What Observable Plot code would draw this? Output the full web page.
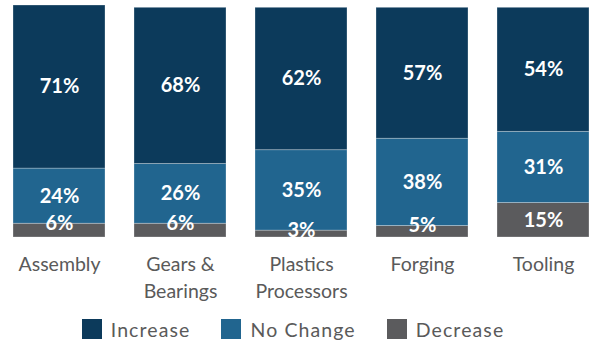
<!DOCTYPE html>
<html>
<head>
<meta charset="utf-8">
<script src="https://cdn.jsdelivr.net/npm/d3@7"></script>
<script src="https://cdn.jsdelivr.net/npm/@observablehq/plot@0.6"></script>
<style>
  html, body { margin: 0; padding: 0; background: #fff; }
  body { width: 596px; height: 341px; overflow: hidden; font-family: Lato, "Open Sans", sans-serif; }
  #legend { display: flex; justify-content: center; align-items: center; gap: 31px; height: 22px; margin-top: 13px; padding-right: 10px; color: #5a5a5a; font-size: 19.5px; letter-spacing: 1.1px; }
  #legend .item { display: flex; align-items: center; gap: 9px; }
  #legend .sw { width: 20px; height: 20px; display: inline-block; }
</style>
</head>
<body>
<div id="chart"></div>
<div id="legend"></div>
<script>
const categories = ["Assembly", "Gears & Bearings", "Plastics Processors", "Forging", "Tooling"];
const tickLabels = ["Assembly", "Gears &\nBearings", "Plastics\nProcessors", "Forging", "Tooling"];
const seriesNames = ["Increase", "No Change", "Decrease"];
const seriesColors = ["#0c3a5b", "#21658f", "#5b5b5d"];
const increase = [71, 68, 62, 57, 54];
const noChange = [24, 26, 35, 38, 31];
const decrease = [6, 6, 3, 5, 15];

// stacking order: Decrease at bottom, then No Change, then Increase on top
const stackOrder = ["Decrease", "No Change", "Increase"];
const valuesBySeries = {"Increase": increase, "No Change": noChange, "Decrease": decrease};

const rows = [];
categories.forEach((c, i) => {
  let base = 0;
  stackOrder.forEach(s => {
    const v = valuesBySeries[s][i];
    const y1 = base + v;
    // small segments: label sits at the segment's top edge
    const ly = v < 10 ? y1 : base + v / 2;
    rows.push({category: c, series: s, value: v, y1: base, y2: y1, ly});
    base = y1;
  });
});

const labelMap = new Map(categories.map((c, i) => [c, tickLabels[i]]));

const chart = Plot.plot({
  width: 596,
  height: 305,
  marginTop: 5,
  marginBottom: 68,
  marginLeft: 13,
  marginRight: 7,
  style: {fontFamily: "Lato, 'Open Sans', sans-serif", background: "#fff"},
  x: {domain: categories, paddingInner: 0.24, paddingOuter: 0, axis: null},
  y: {domain: [0, 101], axis: null},
  color: {domain: seriesNames, range: seriesColors},
  marks: [
    Plot.rectY(rows, {x: "category", y1: "y1", y2: "y2", fill: "series", stroke: "#ffffff", strokeWidth: 0.8, strokeOpacity: 0.35}),
    Plot.text(rows, {x: "category", y: "ly", text: d => d.value + "%", fill: "white", fontWeight: "bold", fontSize: 20, style: {letterSpacing: "0.5px"}}),
    Plot.axisX({domain: categories, label: null, tickSize: 0, tickPadding: 15, fontSize: 19.5, lineHeight: 1.35, fill: "#5a5a5a", tickFormat: d => labelMap.get(d), style: {letterSpacing: "1.1px"}})
  ]
});
document.getElementById("chart").appendChild(chart);

const legend = document.getElementById("legend");
seriesNames.forEach((s, i) => {
  const item = document.createElement("div");
  item.className = "item";
  const sw = document.createElement("span");
  sw.className = "sw";
  sw.style.background = seriesColors[i];
  const t = document.createElement("span");
  t.textContent = s;
  item.appendChild(sw);
  item.appendChild(t);
  legend.appendChild(item);
});
</script>
</body>
</html>
